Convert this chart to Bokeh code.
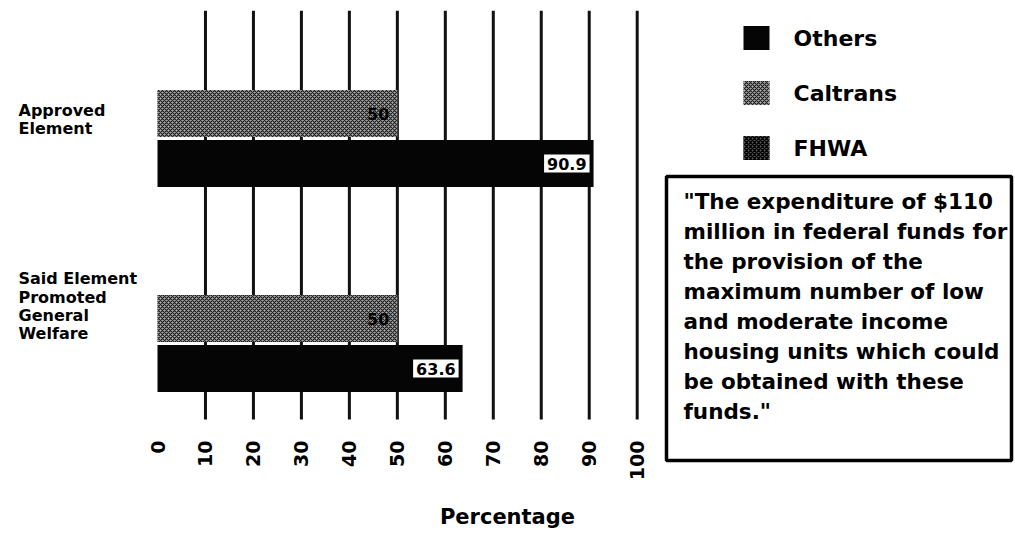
import math
from bokeh.plotting import figure
from bokeh.models import ColumnDataSource, Range1d, FixedTicker, BoxAnnotation, LabelSet
from bokeh.transform import dodge
from bokeh.embed import file_html
from bokeh.resources import INLINE
from bokeh.core.properties import value

# ---------------- data ----------------
categories = ["Approved\nElement", "Said Element\nPromoted\nGeneral\nWelfare"]
caltrans = [50, 50]
others = [90.9, 63.6]
caltrans_labels = ["50", "50"]
others_labels = ["90.9", "63.6"]
series_names = ["Others", "Caltrans", "FHWA"]
x_ticks = [0, 10, 20, 30, 40, 50, 60, 70, 80, 90, 100]
axis_title = "Percentage"
quote_lines = [
    "\"The expenditure of $110",
    "million in federal funds for",
    "the provision of the",
    "maximum number of low",
    "and moderate income",
    "housing units which could",
    "be obtained with these",
    "funds.\"",
]

FONT = "DejaVu Sans"

# ---------------- geometry (pixel layout helpers) ----------------
W, H = 1014, 543
FRAME_TOP = 10
AXIS_PX = 419                # where the percentage axis sits
PX_PER_UNIT = 4.797          # horizontal pixels per percent
X0_PX = 157                  # pixel where 0 % sits
CAT0_PX = 138                # pixel row of first category centre
CAT_STEP = 205.0             # pixels between category centres


def fx(px):
    return (px - X0_PX) / PX_PER_UNIT


def fy(py):
    return (py - CAT0_PX) / CAT_STEP


OFF = 25 / CAT_STEP
BAR_H = 47 / CAT_STEP

# ---------------- styles ----------------
CAL_STYLE = dict(fill_color="#a9a9a9", hatch_pattern="x", hatch_color="#1a1a1a",
                 hatch_scale=4, hatch_weight=1.1, line_color=None)
OTH_STYLE = dict(fill_color="#050505", line_color=None)
FHWA_STYLE = dict(fill_color="#555555", hatch_pattern="x", hatch_color="#000000",
                  hatch_scale=4, hatch_weight=1.3, line_color=None)
styles = {"Others": OTH_STYLE, "Caltrans": CAL_STYLE, "FHWA": FHWA_STYLE}

# ---------------- figure ----------------
p = figure(width=W, height=H, x_range=Range1d(fx(0), fx(W)),
           y_range=Range1d(fy(H), fy(FRAME_TOP)),
           output_backend="svg", toolbar_location=None, y_axis_location=None,
           min_border_left=0, min_border_right=0, min_border_top=FRAME_TOP,
           min_border_bottom=0)
p.outline_line_color = None
p.background_fill_color = "white"
p.border_fill_color = "white"
p.grid.visible = False

ax = p.xaxis[0]
ax.fixed_location = fy(AXIS_PX)
ax.ticker = FixedTicker(ticks=x_ticks)
ax.axis_line_color = None
ax.major_tick_line_color = None
ax.minor_tick_line_color = None
ax.major_tick_out = 0
ax.major_tick_in = 0
ax.major_label_standoff = 21
ax.major_label_orientation = math.pi / 2
ax.major_label_text_font = FONT
ax.major_label_text_font_size = "19px"
ax.major_label_text_font_style = "bold"
ax.major_label_text_color = "black"
ax.axis_label = axis_title
ax.axis_label_text_font = FONT
ax.axis_label_text_font_size = "21px"
ax.axis_label_text_font_style = "bold"
ax.axis_label_text_color = "black"
ax.axis_label_standoff = 22

# vertical grid lines at the ticks (no line at 0)
grid_x = x_ticks[1:]
p.segment(x0=grid_x, x1=grid_x, y0=fy(FRAME_TOP), y1=fy(AXIS_PX),
          line_color="#111111", line_width=3)

src = ColumnDataSource(dict(
    y=list(range(len(categories))), cat=categories,
    caltrans=caltrans, others=others,
    cl=caltrans_labels, ol=others_labels,
))

p.hbar(y=dodge("y", -OFF), left=0, right="caltrans", height=BAR_H, source=src, **CAL_STYLE)
p.hbar(y=dodge("y", OFF), left=0, right="others", height=BAR_H, source=src, **OTH_STYLE)

p.text(x="caltrans", y=dodge("y", -OFF), text="cl", source=src,
       text_align="right", text_baseline="middle", x_offset=-8,
       text_font=value(FONT), text_font_style="bold", text_font_size="16px",
       text_color="black")
p.text(x="others", y=dodge("y", OFF), text="ol", source=src,
       text_align="right", text_baseline="middle", x_offset=-4,
       text_font=value(FONT), text_font_style="bold", text_font_size="16px",
       text_color="black", background_fill_color="white", padding=3)

# category labels
p.text(x=fx(18), y="y", text="cat", source=src, y_offset=0,
       text_align="left", text_baseline="bottom", text_line_height=0.97,
       text_font=value(FONT), text_font_style="bold", text_font_size="16px",
       text_color="black")

# ---------------- legend ----------------
for i, name in enumerate(series_names):
    p.rect(x=fx(756), y=fy(37.5 + 55 * i), width=26, height=24,
           width_units="screen", height_units="screen", **styles[name])
p.text(x=fx(793), y=[fy(37.5 + 55 * i) for i in range(len(series_names))],
       text=series_names, text_align="left", text_baseline="middle",
       text_font=value(FONT), text_font_style="bold", text_font_size="22px",
       text_color="black")

# ---------------- quotation box ----------------
p.add_layout(BoxAnnotation(left=fx(666), right=fx(1011), top=fy(176), bottom=fy(460),
                           fill_color="white", fill_alpha=1.0,
                           line_color="black", line_width=3.5, line_alpha=1.0))
qsrc = ColumnDataSource(dict(
    x=[fx(683)] * len(quote_lines),
    y=[fy(201 + 30 * i) for i in range(len(quote_lines))],
    t=quote_lines,
))
p.add_layout(LabelSet(x="x", y="y", text="t", source=qsrc,
                      text_align="left", text_baseline="middle",
                      text_font=value(FONT), text_font_style="bold",
                      text_font_size="21.5px", text_color="black"))

open("out.html", "w").write(file_html(p, INLINE))
